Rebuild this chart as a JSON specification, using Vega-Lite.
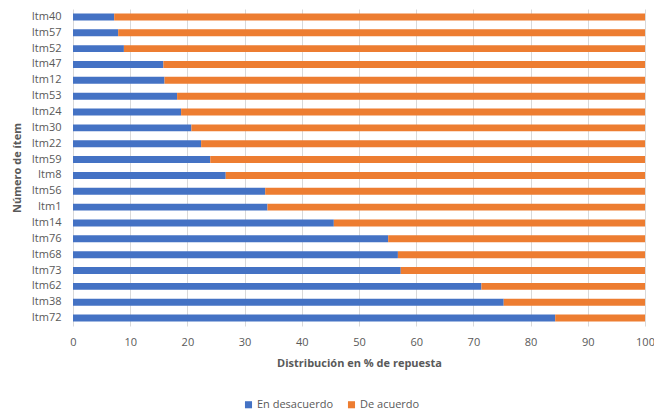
{
  "$schema": "https://vega.github.io/schema/vega-lite/v6.json",
  "autosize": "none",
  "width": 572,
  "height": 317,
  "padding": {"left": 73, "top": 9, "right": 9, "bottom": 86},
  "background": "white",
  "config": {
    "font": "Open Sans",
    "view": {"stroke": null}
  },
  "data": {
    "values": [
      {"item": "Itm40", "grupo": "En desacuerdo", "pct": 7.2},
      {"item": "Itm40", "grupo": "De acuerdo", "pct": 92.8},
      {"item": "Itm57", "grupo": "En desacuerdo", "pct": 7.9},
      {"item": "Itm57", "grupo": "De acuerdo", "pct": 92.1},
      {"item": "Itm52", "grupo": "En desacuerdo", "pct": 8.9},
      {"item": "Itm52", "grupo": "De acuerdo", "pct": 91.1},
      {"item": "Itm47", "grupo": "En desacuerdo", "pct": 15.8},
      {"item": "Itm47", "grupo": "De acuerdo", "pct": 84.2},
      {"item": "Itm12", "grupo": "En desacuerdo", "pct": 16.0},
      {"item": "Itm12", "grupo": "De acuerdo", "pct": 84.0},
      {"item": "Itm53", "grupo": "En desacuerdo", "pct": 18.2},
      {"item": "Itm53", "grupo": "De acuerdo", "pct": 81.8},
      {"item": "Itm24", "grupo": "En desacuerdo", "pct": 18.9},
      {"item": "Itm24", "grupo": "De acuerdo", "pct": 81.1},
      {"item": "Itm30", "grupo": "En desacuerdo", "pct": 20.7},
      {"item": "Itm30", "grupo": "De acuerdo", "pct": 79.3},
      {"item": "Itm22", "grupo": "En desacuerdo", "pct": 22.4},
      {"item": "Itm22", "grupo": "De acuerdo", "pct": 77.6},
      {"item": "Itm59", "grupo": "En desacuerdo", "pct": 24.0},
      {"item": "Itm59", "grupo": "De acuerdo", "pct": 76.0},
      {"item": "Itm8", "grupo": "En desacuerdo", "pct": 26.7},
      {"item": "Itm8", "grupo": "De acuerdo", "pct": 73.3},
      {"item": "Itm56", "grupo": "En desacuerdo", "pct": 33.6},
      {"item": "Itm56", "grupo": "De acuerdo", "pct": 66.4},
      {"item": "Itm1", "grupo": "En desacuerdo", "pct": 34.0},
      {"item": "Itm1", "grupo": "De acuerdo", "pct": 66.0},
      {"item": "Itm14", "grupo": "En desacuerdo", "pct": 45.6},
      {"item": "Itm14", "grupo": "De acuerdo", "pct": 54.4},
      {"item": "Itm76", "grupo": "En desacuerdo", "pct": 55.1},
      {"item": "Itm76", "grupo": "De acuerdo", "pct": 44.9},
      {"item": "Itm68", "grupo": "En desacuerdo", "pct": 56.8},
      {"item": "Itm68", "grupo": "De acuerdo", "pct": 43.2},
      {"item": "Itm73", "grupo": "En desacuerdo", "pct": 57.3},
      {"item": "Itm73", "grupo": "De acuerdo", "pct": 42.7},
      {"item": "Itm62", "grupo": "En desacuerdo", "pct": 71.4},
      {"item": "Itm62", "grupo": "De acuerdo", "pct": 28.6},
      {"item": "Itm38", "grupo": "En desacuerdo", "pct": 75.3},
      {"item": "Itm38", "grupo": "De acuerdo", "pct": 24.7},
      {"item": "Itm72", "grupo": "En desacuerdo", "pct": 84.3},
      {"item": "Itm72", "grupo": "De acuerdo", "pct": 15.7}
    ]
  },
  "mark": {"type": "bar", "height": {"band": 0.44}},
  "encoding": {
    "y": {
      "field": "item",
      "type": "nominal",
      "sort": ["Itm40", "Itm57", "Itm52", "Itm47", "Itm12", "Itm53", "Itm24", "Itm30", "Itm22", "Itm59", "Itm8", "Itm56", "Itm1", "Itm14", "Itm76", "Itm68", "Itm73", "Itm62", "Itm38", "Itm72"],
      "scale": {"paddingInner": 0, "paddingOuter": 0},
      "axis": {
        "title": "Número de ítem",
        "titleFont": "Open Sans",
        "titleFontSize": 11,
        "titleFontWeight": "bold",
        "titleColor": "#595959",
        "titlePadding": 9,
        "labelFont": "Open Sans",
        "labelFontSize": 11,
        "labelColor": "#595959",
        "labelPadding": 12,
        "ticks": false,
        "domain": false,
        "grid": false
      }
    },
    "x": {
      "field": "pct",
      "type": "quantitative",
      "stack": "zero",
      "scale": {"domain": [0, 100], "nice": false},
      "axis": {
        "title": "Distribución en % de repuesta",
        "titleFont": "Open Sans",
        "titleFontSize": 11,
        "titleFontWeight": "bold",
        "titleColor": "#595959",
        "titlePadding": 10,
        "labelFont": "Open Sans",
        "labelFontSize": 11,
        "labelColor": "#595959",
        "labelPadding": 10,
        "labelFlush": false,
        "values": [0, 10, 20, 30, 40, 50, 60, 70, 80, 90, 100],
        "ticks": false,
        "domain": false,
        "grid": true,
        "gridColor": "#d9d9d9",
        "gridWidth": 1
      }
    },
    "color": {
      "field": "grupo",
      "type": "nominal",
      "scale": {"domain": ["En desacuerdo", "De acuerdo"], "range": ["#4472C4", "#ED7D31"]},
      "legend": {
        "title": null,
        "orient": "none",
        "direction": "horizontal",
        "legendX": 170,
        "legendY": 390,
        "symbolType": "square",
        "symbolSize": 50,
        "symbolStrokeWidth": 0,
        "labelFont": "Open Sans",
        "labelFontSize": 11,
        "labelColor": "#595959",
        "labelOffset": 3,
        "columnPadding": 12
      }
    },
    "order": {"field": "grupo", "sort": "descending"}
  }
}
